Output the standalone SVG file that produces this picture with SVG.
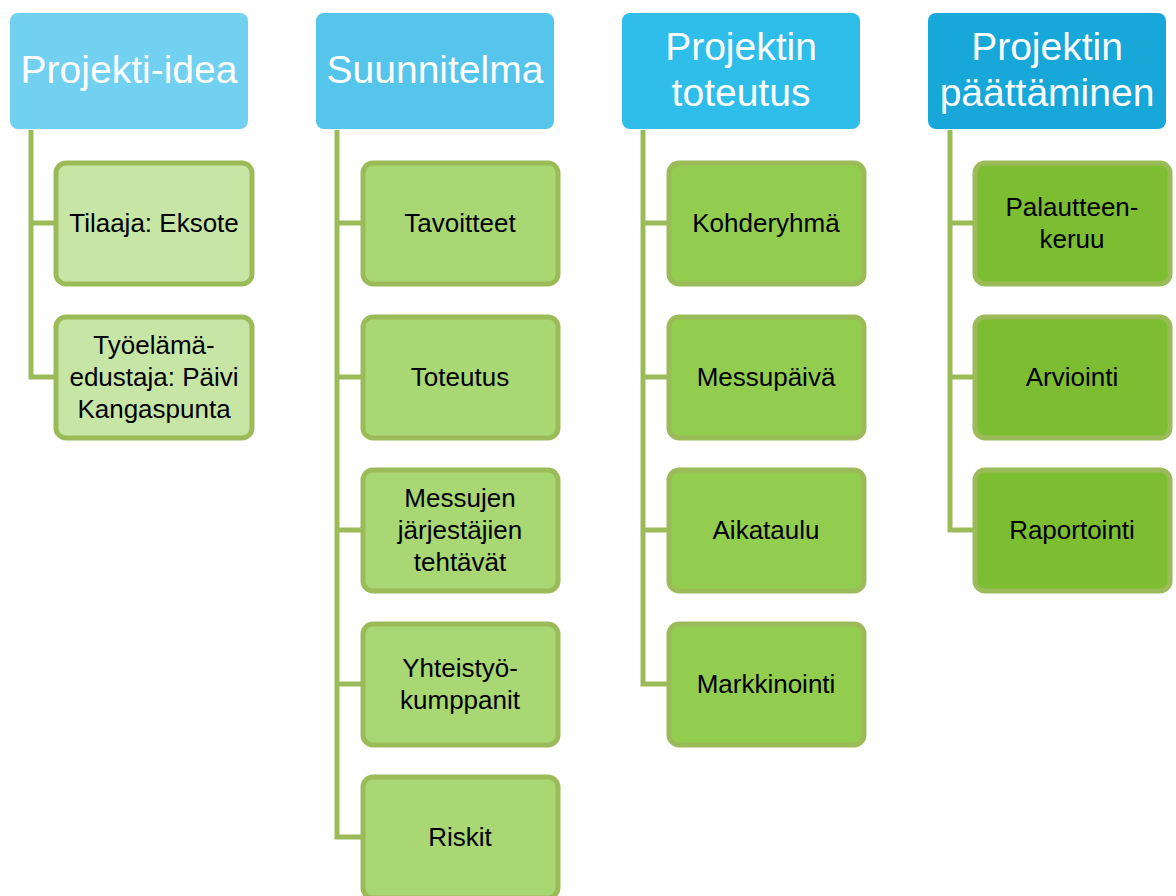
<svg xmlns="http://www.w3.org/2000/svg" width="1176" height="896" viewBox="0 0 1176 896">
<style>
.hd{font-family:"Liberation Sans",Arial,sans-serif;font-size:39px;fill:#ffffff;text-anchor:middle}
.ch{font-family:"Liberation Sans",Arial,sans-serif;font-size:26px;fill:#000000;text-anchor:middle}
.box{stroke:#9bbb59;stroke-width:5}
.c1{fill:#c7e5a5}.c2{fill:#a8d773}.c3{fill:#93cd4f}.c4{fill:#7dbd32}
.conn{fill:none;stroke:#9bbb59;stroke-width:5;stroke-linejoin:miter}
</style>
<rect width="1176" height="896" fill="#ffffff"/>
<g id="connectors">
<path class="conn" d="M31,130 V377 H56 M31,223 H56"/>
<path class="conn" d="M337,130 V837 H363 M337,223 H363 M337,377 H363 M337,530 H363 M337,684 H363"/>
<path class="conn" d="M643,130 V684 H669 M643,223 H669 M643,377 H669 M643,530 H669"/>
<path class="conn" d="M950,130 V530 H975 M950,223 H975 M950,377 H975"/>
</g>
<g id="h1"><rect x="10" y="13" width="238" height="116" rx="8" fill="#72d0f0"/><text class="hd" x="129" y="83">Projekti-idea</text></g>
<g id="h2"><rect x="316" y="13" width="238" height="116" rx="8" fill="#55c5ec"/><text class="hd" x="435" y="83">Suunnitelma</text></g>
<g id="h3"><rect x="622" y="13" width="238" height="116" rx="8" fill="#2fbdea"/><text class="hd" x="741" y="60">Projektin</text><text class="hd" x="741" y="106">toteutus</text></g>
<g id="h4"><rect x="928" y="13" width="238" height="116" rx="8" fill="#17a7d9"/><text class="hd" x="1047" y="60">Projektin</text><text class="hd" x="1047" y="106">päättäminen</text></g>

<g id="n1a"><rect class="box c1" x="56" y="163" width="196" height="121" rx="10"/><text class="ch" x="154" y="232">Tilaaja: Eksote</text></g>
<g id="n1b"><rect class="box c1" x="56" y="317" width="196" height="121" rx="10"/><text class="ch" x="154" y="354">Työelämä-</text><text class="ch" x="154" y="386">edustaja: Päivi</text><text class="ch" x="154" y="418">Kangaspunta</text></g>

<g id="n2a"><rect class="box c2" x="363" y="163" width="195" height="121" rx="10"/><text class="ch" x="460" y="232">Tavoitteet</text></g>
<g id="n2b"><rect class="box c2" x="363" y="317" width="195" height="121" rx="10"/><text class="ch" x="460" y="386">Toteutus</text></g>
<g id="n2c"><rect class="box c2" x="363" y="470" width="195" height="121" rx="10"/><text class="ch" x="460" y="507">Messujen</text><text class="ch" x="460" y="539">järjestäjien</text><text class="ch" x="460" y="571">tehtävät</text></g>
<g id="n2d"><rect class="box c2" x="363" y="624" width="195" height="121" rx="10"/><text class="ch" x="460" y="677">Yhteistyö-</text><text class="ch" x="460" y="709">kumppanit</text></g>
<g id="n2e"><rect class="box c2" x="363" y="777" width="195" height="121" rx="10"/><text class="ch" x="460" y="846">Riskit</text></g>

<g id="n3a"><rect class="box c3" x="669" y="163" width="195" height="121" rx="10"/><text class="ch" x="766" y="232">Kohderyhmä</text></g>
<g id="n3b"><rect class="box c3" x="669" y="317" width="195" height="121" rx="10"/><text class="ch" x="766" y="386">Messupäivä</text></g>
<g id="n3c"><rect class="box c3" x="669" y="470" width="195" height="121" rx="10"/><text class="ch" x="766" y="539">Aikataulu</text></g>
<g id="n3d"><rect class="box c3" x="669" y="624" width="195" height="121" rx="10"/><text class="ch" x="766" y="693">Markkinointi</text></g>

<g id="n4a"><rect class="box c4" x="975" y="163" width="195" height="121" rx="10"/><text class="ch" x="1072" y="216">Palautteen-</text><text class="ch" x="1072" y="248">keruu</text></g>
<g id="n4b"><rect class="box c4" x="975" y="317" width="195" height="121" rx="10"/><text class="ch" x="1072" y="386">Arviointi</text></g>
<g id="n4c"><rect class="box c4" x="975" y="470" width="195" height="121" rx="10"/><text class="ch" x="1072" y="539">Raportointi</text></g>
</svg>
